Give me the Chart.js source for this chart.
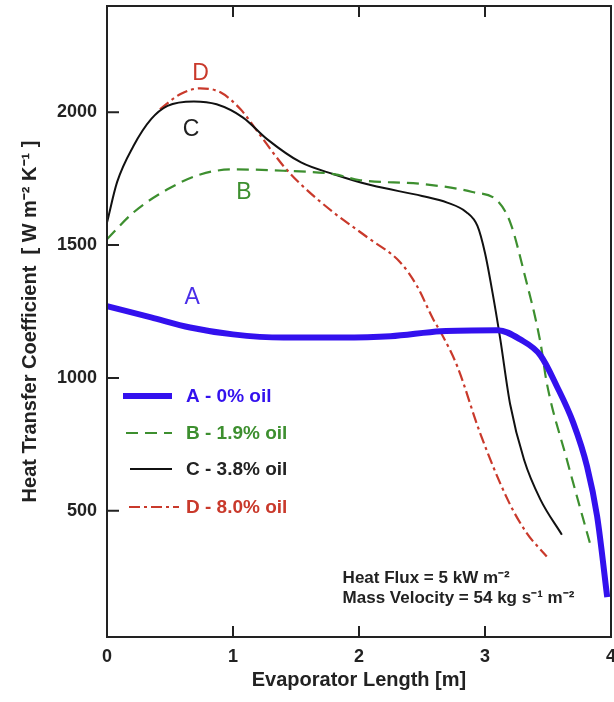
<!DOCTYPE html>
<html>
<head>
  <title>Heat Transfer Coefficient vs Evaporator Length</title>
  <script src="https://cdn.jsdelivr.net/npm/chart.js"></script>
  <style>
    body {
      margin: 0;
      background: #ffffff;
    }
    #chart {
      display: block;
    }
  </style>
</head>
<body>

<canvas id="chart" width="614" height="702"></canvas>

<script>
  // evaporator length [m] and heat transfer coefficient
  const xA = [0, 0.35, 0.66, 1.0, 1.4, 1.85, 2.25, 2.65, 3.1, 3.28, 3.44, 3.57, 3.7, 3.81, 3.89, 3.97];
  const yA = [1270, 1228, 1190, 1164, 1152, 1152, 1157, 1176, 1180, 1145, 1085, 969, 832, 667, 479, 175];

  const xB = [0, 0.21, 0.48, 0.74, 1.0, 1.4, 1.8, 2.0, 2.5, 2.9, 3.1, 3.2, 3.31, 3.44, 3.49, 3.65, 3.84];
  const yB = [1522, 1623, 1710, 1766, 1785, 1780, 1767, 1745, 1730, 1700, 1666, 1586, 1397, 1133, 982, 692, 366];

  const xC = [0, 0.08, 0.21, 0.35, 0.48, 0.69, 0.87, 1.08, 1.27, 1.54, 1.8, 2.1, 2.5, 2.7, 2.85, 2.94, 3.0, 3.06, 3.12, 3.2, 3.31, 3.44, 3.61];
  const yC = [1585, 1737, 1873, 1974, 2024, 2041, 2030, 1980, 1899, 1811, 1767, 1725, 1685, 1660, 1625, 1572, 1470, 1320, 1150, 900, 692, 542, 410];

  const xD = [0.42, 0.58, 0.74, 0.9, 1.06, 1.22, 1.4, 1.54, 1.8, 2.07, 2.33, 2.46, 2.59, 2.65, 2.78, 2.96, 3.18, 3.33, 3.49];
  const yD = [2011, 2068, 2090, 2075, 2011, 1911, 1798, 1728, 1622, 1528, 1434, 1346, 1220, 1171, 1044, 794, 542, 417, 328];

  const seriesNames = ["A - 0% oil", "B - 1.9% oil", "C - 3.8% oil", "D - 8.0% oil"];
  const curveLetters = ["A", "B", "C", "D"];
  // where each letter sits, in data units
  const letterX = [0.676, 1.086, 0.668, 0.742];
  const letterY = [1302, 1697, 1934, 2144];

  const xTicks = [0, 1, 2, 3, 4];
  const yTicks = [500, 1000, 1500, 2000];

  const noteLines = ["Heat Flux = 5 kW m\u207B\u00B2", "Mass Velocity = 54 kg s\u207B\u00B9 m\u207B\u00B2"];
  const noteX = 1.87;
  const noteY = [245, 170];

  const colors = ["#3311ee", "#3d8f2f", "#111111", "#c9392b"];
  const dashes = [[], [12, 7], [], [11, 4, 3, 4]];
  const widths = [6, 2.2, 2, 2.2];

  function pts(xs, ys) {
    return xs.map((x, i) => ({ x: x, y: ys[i] }));
  }

  const allData = [pts(xA, yA), pts(xB, yB), pts(xC, yC), pts(xD, yD)];

  const datasets = allData.map((d, i) => ({
    label: seriesNames[i],
    data: d,
    showLine: true,
    borderColor: colors[i],
    borderWidth: widths[i],
    borderDash: dashes[i],
    pointRadius: 0,
    fill: false,
    cubicInterpolationMode: 'monotone'
  }));

  const boldFont = "'Liberation Sans', Arial, sans-serif";

  // frame, inward ticks, legend, curve letters and the note
  const extras = {
    id: 'extras',
    afterDatasetsDraw(chart) {
      const ctx = chart.ctx;
      const a = chart.chartArea;
      const xs = chart.scales.x;
      const ys = chart.scales.y;
      ctx.save();

      ctx.strokeStyle = "#222";
      ctx.lineWidth = 2;
      ctx.setLineDash([]);
      ctx.strokeRect(a.left, a.top, a.right - a.left, a.bottom - a.top);

      ctx.beginPath();
      yTicks.forEach(v => {
        const p = ys.getPixelForValue(v);
        ctx.moveTo(a.left, p);
        ctx.lineTo(a.left + 12, p);
      });
      xTicks.slice(1, -1).forEach(v => {
        const p = xs.getPixelForValue(v);
        ctx.moveTo(p, a.bottom);
        ctx.lineTo(p, a.bottom - 11);
        ctx.moveTo(p, a.top);
        ctx.lineTo(p, a.top + 11);
      });
      ctx.stroke();

      // legend
      ctx.textBaseline = "middle";
      ctx.textAlign = "left";
      ctx.font = "bold 19px " + boldFont;
      const rowY = [390, 427, 463, 501];
      const lineStart = [16, 19, 23, 22];
      const lineEnd = [65, 65, 65, 72];
      seriesNames.forEach((name, i) => {
        const y = a.top + rowY[i];
        ctx.beginPath();
        ctx.strokeStyle = colors[i];
        ctx.lineWidth = i === 0 ? 6 : 2.2;
        ctx.setLineDash(dashes[i]);
        ctx.moveTo(a.left + lineStart[i], y);
        ctx.lineTo(a.left + lineEnd[i], y);
        ctx.stroke();
        ctx.setLineDash([]);
        ctx.fillStyle = i === 2 ? "#222" : colors[i];
        ctx.fillText(name, a.left + 79, y + 1);
      });

      // letters on the curves
      ctx.font = "23px " + boldFont;
      ctx.textAlign = "center";
      curveLetters.forEach((l, i) => {
        ctx.fillStyle = i === 0 ? "#4a2ee8" : (i === 2 ? "#222" : colors[i]);
        ctx.fillText(l, xs.getPixelForValue(letterX[i]), ys.getPixelForValue(letterY[i]));
      });

      // note
      ctx.font = "bold 17px " + boldFont;
      ctx.textAlign = "left";
      ctx.fillStyle = "#222";
      noteLines.forEach((t, i) => {
        ctx.fillText(t, xs.getPixelForValue(noteX), ys.getPixelForValue(noteY[i]));
      });

      ctx.restore();
    }
  };

  const whiteBg = {
    id: 'whiteBg',
    beforeDraw(chart) {
      const ctx = chart.ctx;
      ctx.save();
      ctx.fillStyle = "#ffffff";
      ctx.fillRect(0, 0, chart.width, chart.height);
      ctx.restore();
    }
  };

  const ctx = document.getElementById("chart").getContext("2d");
  const chart = new Chart(ctx, {
    type: 'scatter',
    data: { datasets: datasets },
    options: {
      responsive: false,
      animation: false,
      layout: { padding: { top: 6, right: 3, left: 0, bottom: 0 } },
      plugins: {
        legend: { display: false },
        tooltip: { enabled: false }
      },
      scales: {
        x: {
          type: 'linear',
          min: 0,
          max: 4,
          grid: { display: false, drawTicks: false },
          border: { display: false },
          afterBuildTicks: s => { s.ticks = xTicks.map(v => ({ value: v })); },
          afterFit: s => {
            s.height = 65;
            s.paddingLeft = 0;
            s.paddingRight = 0;
          },
          ticks: {
            padding: 9,
            color: "#222",
            font: { family: boldFont, size: 18, weight: 'bold' },
            maxRotation: 0,
            callback: v => String(v)
          },
          title: {
            display: true,
            text: "Evaporator Length [m]",
            color: "#222",
            padding: { top: 0, bottom: 10 },
            font: { family: boldFont, size: 20, weight: 'bold' }
          }
        },
        y: {
          type: 'linear',
          min: 25,
          max: 2400,
          grid: { display: false, drawTicks: false },
          border: { display: false },
          afterBuildTicks: s => { s.ticks = yTicks.map(v => ({ value: v })); },
          afterFit: s => {
            s.width = 107;
            s.paddingTop = 0;
            s.paddingBottom = 0;
          },
          ticks: {
            padding: 10,
            color: "#222",
            font: { family: boldFont, size: 18, weight: 'bold' },
            callback: v => String(v)
          },
          title: {
            display: true,
            text: "Heat Transfer Coefficient  [ W m\u207B\u00B2 K\u207B\u00B9 ]",
            color: "#222",
            padding: { top: 18, bottom: 0 },
            font: { family: boldFont, size: 20, weight: 'bold' }
          }
        }
      }
    },
    plugins: [whiteBg, extras]
  });
</script>

</body>
</html>
